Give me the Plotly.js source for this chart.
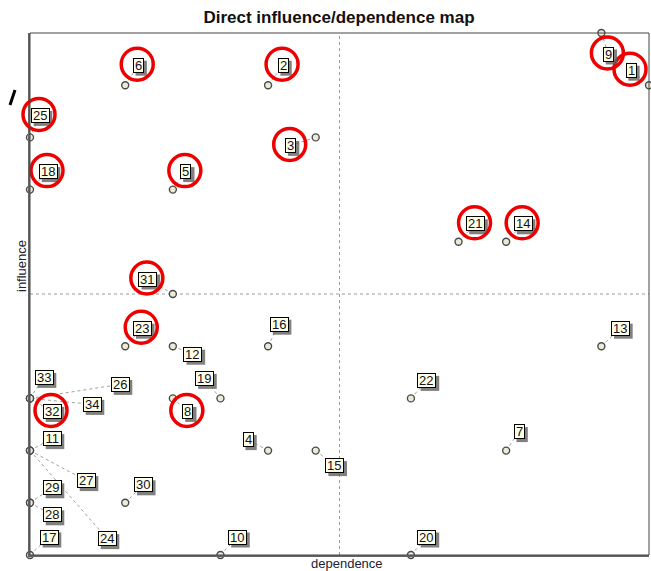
<!DOCTYPE html>
<html><head><meta charset="utf-8">
<script src="https://cdn.plot.ly/plotly-3.0.1.min.js"></script>
<style>body{margin:0;background:#fff}#chart{width:651px;height:571px}</style>
</head><body><div id="chart"></div>
<script>
// ---- data ----
const variables  = ['1','2','3','4','5','6','7','8','9','10','11','12','13','14','15','16','17','18','19','20','21','22','23','24','25','26','27','28','29','30','31','32','33','34'];
const dependence = [13,5,6,5,3,2,10,3,12,4,0,3,12,10,6,5,0,0,4,8,9,8,2,0,0,0,0,0,0,2,3,0,0,0];
const influence  = [9,9,8,2,7,9,2,3,10,0,2,4,4,6,2,4,0,7,3,0,6,3,4,2,8,3,2,1,1,1,5,3,3,3];
const highlighted = ['1','2','3','5','6','8','9','14','18','21','23','25','31','32'];

// ---- label placement (screen pixels from the point; +dy = down) ----
const labelOffset = {
 '1':[-18,-15],'2':[15,-20],'3':[-25,8],'4':[-20,-11],'5':[13,-18],'6':[13,-20],'7':[13,-19],
 '8':[15,13],'9':[7,21],'10':[17,-18],'11':[22,-12],'12':[20,8],'13':[19,-18],'14':[17,-18],
 '15':[19,15],'16':[11,-22],'17':[19,-18],'18':[18,-18],'19':[-16,-20],'20':[16,-18],'21':[17,-18],
 '22':[16,-18],'23':[17,-18],'24':[77,88],'25':[10,-22],'26':[90,-14],'27':[56,30],'28':[22,12],
 '29':[22,-15],'30':[18,-18],'31':[-25,-15],'32':[22,13],'33':[14,-21],'34':[62,6]
};
const xRange = [0,13], yRange = [0,10];
const xMid = (xRange[0]+xRange[1])/2, yMid = (yRange[0]+yRange[1])/2;

const shapes = [];
const annotations = [];
const FONT = 'Liberation Sans, Arial, sans-serif';
const labelFont = {family:FONT, size:13, color:'#101030'};

// quadrant separators
shapes.push({type:'line',xref:'x',yref:'paper',x0:xMid,x1:xMid,y0:0,y1:1,line:{color:'#9a9a9a',width:1,dash:'dot'},layer:'below'});
shapes.push({type:'line',xref:'paper',yref:'y',x0:0,x1:1,y0:yMid,y1:yMid,line:{color:'#9a9a9a',width:1,dash:'dot'},layer:'below'});

variables.forEach((v,i)=>{
  const [dx,dy] = labelOffset[v];
  const x = dependence[i], y = influence[i];
  const fx = (x-xRange[0])/(xRange[1]-xRange[0]);
  const fy = (y-yRange[0])/(yRange[1]-yRange[0]);
  const w = v.length*7.3+2, h = 13;
  // leader line
  shapes.push({type:'line',xref:'x',yref:'y',xsizemode:'pixel',ysizemode:'pixel',
    xanchor:x,yanchor:y,x0:0,y0:0,x1:dx,y1:-dy,
    line:{color:'#a0a0a0',width:1,dash:'dot'},layer:'below'});
  // drop shadow of the label box
  shapes.push({type:'rect',xref:'x domain',yref:'y domain',xsizemode:'pixel',ysizemode:'pixel',
    xanchor:fx,yanchor:fy,x0:dx-w/2-1+3,x1:dx+w/2+1+3,y0:-dy-h/2-1-3,y1:-dy+h/2+1-3,
    fillcolor:'#606060',line:{width:0},opacity:0.8,layer:'above'});
  // label
  annotations.push({x:x,y:y,xref:'x',yref:'y',text:v,showarrow:false,xshift:dx,yshift:-dy,
    width:w,height:h,align:'center',valign:'middle',
    font:labelFont,bgcolor:'#ffffe6',bordercolor:'#000',borderwidth:1,borderpad:0});
  if (highlighted.includes(v)) {
    shapes.push({type:'circle',xref:'x domain',yref:'y domain',xsizemode:'pixel',ysizemode:'pixel',
      xanchor:fx,yanchor:fy,x0:dx-17,x1:dx+15,y0:-dy-15,y1:-dy+17,
      line:{color:'#ee0000',width:3.5},layer:'above'});
  }
});

// frame
shapes.push({type:'rect',xref:'paper',yref:'paper',x0:0,x1:1,y0:0,y1:1,line:{color:'#444',width:1},layer:'above'});
// partial glyph at the left margin
shapes.push({type:'line',xref:'paper',yref:'paper',xsizemode:'pixel',ysizemode:'pixel',xanchor:0,yanchor:1,
  x0:-20,y0:-72,x1:-15,y1:-57,line:{color:'#000',width:3}});

// axis titles (placed as in the reference)
annotations.push({xref:'paper',yref:'paper',x:(347-30)/619,y:(555-563)/522,text:'dependence',showarrow:false,
  xanchor:'center',yanchor:'middle',font:{family:FONT,size:13,color:'#223'}});
annotations.push({xref:'paper',yref:'paper',x:(21-30)/619,y:(555-266)/522,text:'influence',showarrow:false,
  textangle:-90,xanchor:'center',yanchor:'middle',font:{family:FONT,size:13,color:'#223'}});

const trace = {
  type:'scatter',mode:'markers',x:dependence,y:influence,text:variables,cliponaxis:false,
  marker:{size:7,color:'#ecebd8',line:{color:'#4a4a4a',width:1.4}},hoverinfo:'text'
};

const layout = {
  width:651,height:571,margin:{l:30,r:2,t:33,b:16},
  paper_bgcolor:'#fff',plot_bgcolor:'#fff',showlegend:false,
  title:{text:'<b>Direct influence/dependence map</b>',x:339/651,xanchor:'center',yref:'container',y:1-17/571,yanchor:'middle',
    font:{family:FONT,size:17,color:'#111'}},
  xaxis:{range:xRange,showgrid:false,zeroline:false,showticklabels:false,ticks:'',
    showline:true,linecolor:'#666',linewidth:2},
  yaxis:{range:yRange,showgrid:false,zeroline:false,showticklabels:false,ticks:'',
    showline:true,linecolor:'#666',linewidth:2},
  shapes:shapes,annotations:annotations
};
Plotly.newPlot('chart',[trace],layout,{displayModeBar:false,staticPlot:true});
</script></body></html>
